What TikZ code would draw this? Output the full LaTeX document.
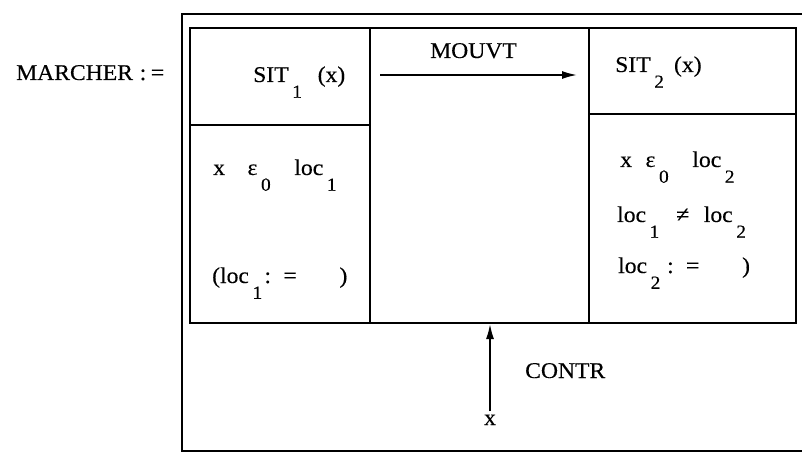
\documentclass[tikz,border=0pt]{standalone}
\usepackage{fontspec}
\setmainfont{Liberation Serif}[FakeStretch=1.05,FakeBold=0.25]
\usetikzlibrary{arrows.meta}
\newcommand\mainsz{\fontsize{22.5}{25}\selectfont}
\newcommand\sbs[1]{\kern0.16em\raisebox{-0.7em}{\fontsize{18.5}{18.5}\selectfont #1}}
\tikzset{
  frame/.style={line width=2.2pt},
  colbox/.style={draw, line width=2pt, inner sep=0pt, anchor=north west},
  txt/.style={anchor=base west, inner sep=0pt, font=\mainsz},
  arr/.style={line width=1.7pt, -{Latex[length=15pt,width=8pt]}}
}
\begin{document}
\begin{tikzpicture}[x=1pt,y=-1pt]
\clip (0,0) rectangle (802,454);
\fill[white] (0,0) rectangle (802,454);
% outer frame
\draw[frame] (182,14) rectangle (830,451);
% columns
\node[colbox, minimum width=180pt, minimum height=295pt] (L) at (189,27) {};
\node[colbox, minimum width=219pt, minimum height=295pt] (M) at (369,27) {};
\node[colbox, minimum width=207pt, minimum height=295pt] (R) at (588,27) {};
\draw[line width=2pt] (L.west |- 0,125) -- (L.east |- 0,125);
\draw[line width=2pt] (R.west |- 0,114) -- (R.east |- 0,114);
% texts
\node[txt] (march) at (16,80) {MARCHER\hspace{0.3em}:\kern0.2em=};
\node[txt] (sit1) at (253,82) {SIT\sbs{1}\hspace{0.7em}(x)};
\node[txt] (mouvt) at (430,58) {MOUVT};
\node[txt] (sit2) at (615,72) {SIT\sbs{2}\hspace{0.45em}(x)};
\node[txt] (la) at (213,175) {x\hspace{1em}ε\sbs{0}\hspace{1.05em}loc\sbs{1}};
\node[txt] (lb) at (212,283) {(loc\sbs{1}\kern0.1em:\hspace{0.55em}=\hspace{1.9em})};
\node[txt] (ra) at (620,167) {x\hspace{0.6em}ε\sbs{0}\hspace{1.05em}loc\sbs{2}};
\node[txt] (rb) at (617,222) {loc\sbs{1}\hspace{0.75em}≠\hspace{0.65em}loc\sbs{2}};
\node[txt] (rc) at (618,273) {loc\sbs{2}\hspace{0.3em}:\hspace{0.55em}=\hspace{1.9em})};
\node[txt] (contr) at (525,378) {CONTR};
\node[txt, anchor=base] (xl) at (490,425) {x};
% connectors
\coordinate (ms) at (380,75);
\coordinate (me) at (577,75);
\draw[arr] (ms) -- (me);
\draw[arr] ([yshift=3pt]xl.north) -- (xl.north |- M.south);
\end{tikzpicture}
\end{document}
